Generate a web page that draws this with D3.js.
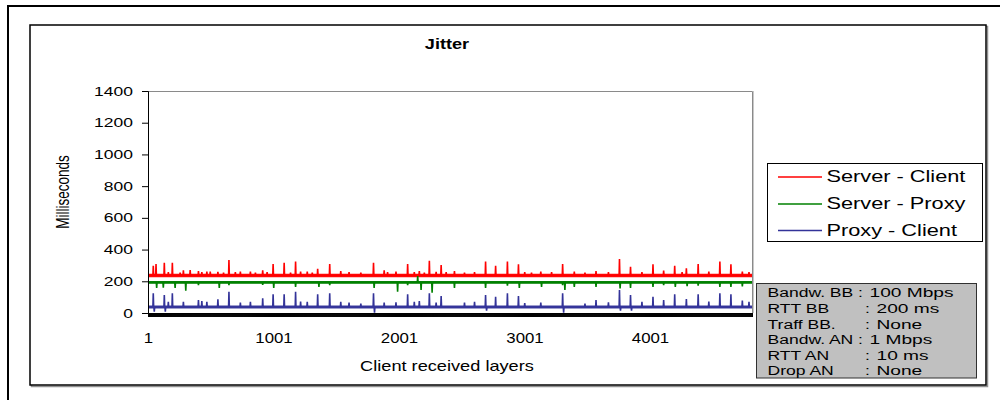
<!DOCTYPE html>
<html>
<head>
<meta charset="utf-8">
<script src="https://cdn.jsdelivr.net/npm/d3@7"></script>
<style>
  body { margin: 0; background: #fff; }
  svg { display: block; }
  text { font-family: "Liberation Sans", Arial, sans-serif; fill: #000; }
</style>
</head>
<body>
<svg id="chart" width="1000" height="400"></svg>
<script>
// ---- data ----
const layerCount = 4814;
const yTickValues = [0, 200, 400, 600, 800, 1000, 1200, 1400];
const xTickLabels = [1, 1001, 2001, 3001, 4001];
const seriesNames = ["Server - Client", "Server - Proxy", "Proxy - Client"];
const seriesColors = ["#ff0000", "#008000", "#333399"];

// steady jitter range of each series [low, high] in ms
const serverClientBand = [226, 248];
const serverProxyBand = [184, 202];
const proxyClientBand = [28, 48];

// [layer, ms] peaks
const serverClientSpikes = [
  [43, 297], [65, 309], [131, 317], [163, 258], [195, 317], [257, 255], [283, 270], [337, 271],
  [403, 265], [430, 258], [470, 262], [497, 262], [558, 259], [603, 255], [646, 334], [697, 258],
  [737, 262], [817, 262], [857, 255], [915, 270], [950, 258], [998, 309], [1086, 317], [1137, 255],
  [1177, 324], [1217, 262], [1270, 262], [1310, 255], [1353, 278], [1449, 309], [1537, 265],
  [1603, 258], [1697, 255], [1798, 317], [1883, 270], [1910, 258], [1977, 262], [2070, 309],
  [2123, 258], [2163, 265], [2203, 255], [2243, 330], [2297, 260], [2337, 303], [2377, 258],
  [2443, 265], [2523, 255], [2603, 258], [2691, 324], [2771, 297], [2865, 324], [2953, 307],
  [3003, 258], [3057, 255], [3131, 262], [3217, 258], [3305, 309], [3398, 262], [3483, 255],
  [3571, 265], [3670, 258], [3758, 341], [3846, 292], [3937, 258], [4025, 307], [4110, 268],
  [4198, 297], [4257, 258], [4291, 282], [4385, 309], [4470, 262], [4558, 324], [4646, 307],
  [4737, 261], [4790, 258]
];
const serverProxySpikes = [
  [70, 158], [123, 160], [217, 158], [302, 141], [403, 175], [569, 158], [646, 175], [915, 178],
  [1003, 158], [1177, 165], [1363, 165], [1449, 175], [1803, 158], [1990, 135], [2070, 175],
  [2150, 233], [2177, 145], [2265, 128], [2443, 158], [2691, 158], [2865, 172], [2960, 158],
  [3137, 165], [3305, 175], [3323, 145], [3398, 165], [3571, 165], [3763, 155], [3846, 158],
  [4025, 165], [4110, 176], [4203, 165], [4297, 170], [4385, 172], [4558, 165], [4646, 165],
  [4737, 168]
];
const proxyClientSpikes = [
  [43, 124], [131, 114], [163, 70], [195, 124], [283, 71], [403, 82], [430, 75], [470, 71],
  [558, 86], [646, 134], [737, 65], [817, 70], [915, 93], [998, 118], [1086, 118], [1177, 134],
  [1217, 72], [1270, 71], [1353, 118], [1449, 124], [1537, 71], [1603, 65], [1697, 60],
  [1798, 124], [1883, 65], [1977, 68], [2070, 118], [2123, 70], [2163, 75], [2243, 124],
  [2297, 65], [2337, 107], [2523, 65], [2603, 70], [2691, 114], [2771, 103], [2865, 124],
  [2953, 107], [3003, 62], [3131, 65], [3305, 124], [3483, 60], [3571, 82], [3670, 68],
  [3758, 145], [3846, 114], [3937, 70], [4025, 103], [4110, 82], [4198, 118], [4291, 88],
  [4385, 118], [4470, 72], [4558, 124], [4646, 118], [4737, 78], [4790, 70]
];
// [layer, ms] drops below the steady range
const proxyClientDips = [[43, 8], [131, 8], [1798, 2], [2691, 15], [3305, 2], [3758, 15], [3846, 15]];

const infoLabels = ["Bandw. BB", "RTT BB", "Traff BB.", "Bandw. AN", "RTT AN", "Drop AN"];
const infoValues = ["100 Mbps", "200 ms", "None", "1 Mbps", "10 ms", "None"];

// ---- layout ----
const svg = d3.select("#chart");
const plot = { left: 148, right: 752, top: 91, bottom: 313 };

const x = d3.scaleLinear().domain([1, layerCount]).range([plot.left, plot.right]);
const y = d3.scaleLinear().domain([0, 1400]).range([plot.bottom, plot.top]);

// widen glyphs horizontally around each text's anchor
function stretchX(sel, sx) {
  sel.each(function () {
    const t = d3.select(this);
    const x0 = +(t.attr("x") || 0);
    t.attr("x", x0 / sx);
    const tr = t.attr("transform");
    t.attr("transform", (tr ? tr + " " : "") + `scale(${sx},1)`);
  });
}

// outer and inner frames
svg.append("rect").attr("x", 8).attr("y", 6).attr("width", 1010).attr("height", 410)
  .attr("fill", "none").attr("stroke", "#000").attr("stroke-width", 2);
svg.append("rect").attr("x", 31.5).attr("y", 26.5).attr("width", 956).attr("height", 360)
  .attr("fill", "none").attr("stroke", "#909090").attr("stroke-width", 1.5);
svg.append("rect").attr("x", 30).attr("y", 25).attr("width", 956).attr("height", 360)
  .attr("fill", "#fff").attr("stroke", "#000").attr("stroke-width", 1.5);

// title
svg.append("text").attr("x", 447).attr("y", 49).attr("text-anchor", "middle")
  .style("font-size", "14.5px").style("font-weight", "bold").text("Jitter")
  .call(stretchX, 1.25);

// plot border (top / right)
svg.append("path")
  .attr("d", `M${plot.left},${plot.top + 0.5}H${plot.right + 0.5}V${plot.bottom}`)
  .attr("fill", "none").attr("stroke", "#8a8a8a").attr("stroke-width", 1);
svg.append("path")
  .attr("d", `M${plot.right + 1.5},${plot.top}V${plot.bottom}`)
  .attr("fill", "none").attr("stroke", "#c8c8c8").attr("stroke-width", 1);

// series
const bands = [serverClientBand, serverProxyBand, proxyClientBand];
const spikes = [serverClientSpikes, serverProxySpikes, proxyClientSpikes];
const dips = [[], [], proxyClientDips];

function buildPoints(band, peaks, drops) {
  const mid = (band[0] + band[1]) / 2;
  const events = peaks.map(([l, v]) => [l, v]).concat(drops.map(([l, v]) => [l + 8, v]));
  events.sort((a, b) => a[0] - b[0]);
  const pts = [[1, mid]];
  events.forEach(([l, v]) => { pts.push([l - 3, mid], [l, v], [l + 3, mid]); });
  pts.push([layerCount, mid]);
  return pts;
}

const line = d3.line().x(d => x(d[0])).y(d => y(d[1]));

const g = svg.append("g");
seriesNames.forEach((name, i) => {
  const b = bands[i];
  g.append("path")
    .datum([1, layerCount])
    .attr("d", d3.area().x(d => x(d)).y0(y(b[0])).y1(y(b[1])))
    .attr("fill", seriesColors[i]).attr("opacity", 0.95);
  g.append("path")
    .datum(buildPoints(b, spikes[i], dips[i]))
    .attr("d", line)
    .attr("fill", "none").attr("stroke", seriesColors[i])
    .attr("stroke-width", 1.6).attr("stroke-linejoin", "miter");
});

// y axis
const yAxis = svg.append("g").attr("transform", `translate(${plot.left},0)`)
  .call(d3.axisLeft(y).tickValues(yTickValues).tickSize(6).tickPadding(9).tickFormat(d3.format("d")));
yAxis.select(".domain").attr("stroke", "#000");
yAxis.selectAll("text").style("font-size", "12.5px").attr("fill", "#000").call(stretchX, 1.4);

// x axis: dense category ticks form a solid band
const xAxisTicks = svg.append("g").attr("transform", `translate(0,${plot.bottom})`)
  .call(d3.axisBottom(x).tickValues(d3.range(1, layerCount + 1, 4)).tickSize(4).tickFormat(""));
xAxisTicks.select(".domain").attr("stroke", "#000");
xAxisTicks.selectAll("line").attr("stroke", "#000");

const xAxisLabels = svg.append("g").attr("transform", `translate(0,${plot.bottom})`)
  .call(d3.axisBottom(x).tickValues(xTickLabels).tickSize(0).tickPadding(20).tickFormat(d3.format("d")));
xAxisLabels.select(".domain").remove();
xAxisLabels.selectAll("text").style("font-size", "14px").attr("fill", "#000").call(stretchX, 1.2);

// axis titles
svg.append("text").attr("text-anchor", "middle")
  .attr("transform", "translate(69,192) scale(1.35,1) rotate(-90)")
  .style("font-size", "13.5px").text("Milliseconds");
svg.append("text").attr("x", 447).attr("y", 371).attr("text-anchor", "middle")
  .style("font-size", "14px").text("Client received layers")
  .call(stretchX, 1.3);

// legend
const legend = svg.append("g");
legend.append("rect").attr("x", 767.5).attr("y", 163.5).attr("width", 215).attr("height", 78)
  .attr("fill", "#fff").attr("stroke", "#000").attr("stroke-width", 1);
const legendRowY = [177, 204, 230.5];
seriesNames.forEach((name, i) => {
  legend.append("line").attr("x1", 778).attr("x2", 822)
    .attr("y1", legendRowY[i]).attr("y2", legendRowY[i])
    .attr("stroke", seriesColors[i]).attr("stroke-width", 1.5);
  legend.append("text").attr("x", 826.5).attr("y", legendRowY[i] + 5.5)
    .style("font-size", "16px").text(name).call(stretchX, 1.36);
});

// test conditions box
const info = svg.append("g");
info.append("rect").attr("x", 756.5).attr("y", 283.5).attr("width", 220).attr("height", 94.5)
  .attr("fill", "#c0c0c0").attr("stroke", "#303030").attr("stroke-width", 1);
const colonX = [858, 865, 865, 858, 865, 865];
infoLabels.forEach((lab, i) => {
  const by = 297.5 + i * 15.6;
  info.append("text").attr("x", 767.5).attr("y", by).style("font-size", "13.5px")
    .text(lab).call(stretchX, 1.3);
  info.append("text").attr("x", colonX[i]).attr("y", by).style("font-size", "13.5px")
    .text(":").call(stretchX, 1.3);
  info.append("text").attr("x", colonX[i] + 11.5).attr("y", by).style("font-size", "13.5px")
    .text(infoValues[i]).call(stretchX, 1.42);
});
</script>
</body>
</html>
